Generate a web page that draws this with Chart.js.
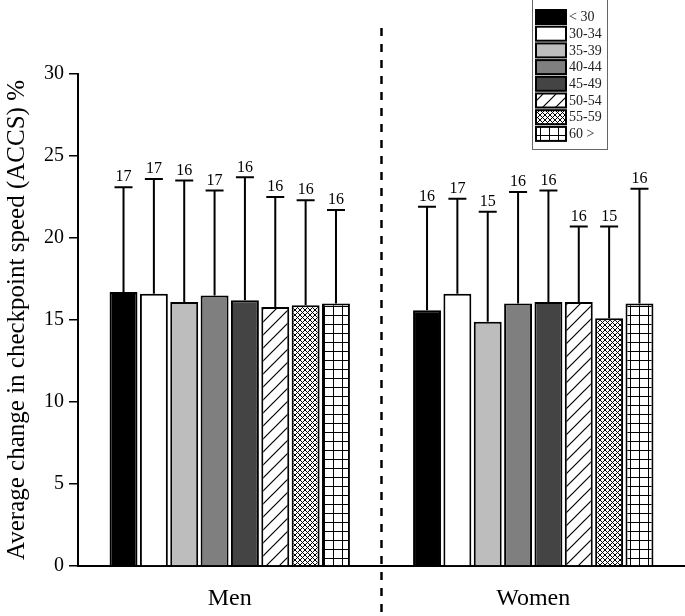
<!DOCTYPE html>
<html>
<head>
<meta charset="utf-8">
<script src="https://cdn.jsdelivr.net/npm/chart.js@4.4.1/dist/chart.umd.min.js"></script>
<style>
  html, body { margin: 0; padding: 0; background: #ffffff; }
  #wrap { width: 685px; height: 616px; position: relative; }
</style>
</head>
<body>
<div id="wrap"><canvas id="accsChart" width="685" height="616"></canvas></div>
<script>
// categories and age groups
const groups = ['Men', 'Women'];
const ageGroups = ['< 30', '30-34', '35-39', '40-44', '45-49', '50-54', '55-59', '60 >'];

// mean ACCS (%) per age group: [Men, Women]
const meanLt30 = [16.7, 15.6];
const mean3034 = [16.6, 16.6];
const mean3539 = [16.1, 14.9];
const mean4044 = [16.5, 16.0];
const mean4549 = [16.2, 16.1];
const mean5054 = [15.8, 16.1];
const mean5559 = [15.9, 15.1];
const mean60up = [16.0, 16.0];

// standard deviation (upper error bar) per age group: [Men, Women]
const sdLt30 = [6.4, 6.3];
const sd3034 = [7.0, 5.8];
const sd3539 = [7.4, 6.7];
const sd4044 = [6.4, 6.8];
const sd4549 = [7.5, 6.8];
const sd5054 = [6.7, 4.6];
const sd5559 = [6.4, 5.6];
const sd60up = [5.7, 7.0];

// labels above the error bars
const nLt30 = [17, 16];
const n3034 = [17, 17];
const n3539 = [16, 15];
const n4044 = [17, 16];
const n4549 = [16, 16];
const n5054 = [16, 16];
const n5559 = [16, 15];
const n60up = [16, 16];

const yTicks = [0, 5, 10, 15, 20, 25, 30];

const means = [meanLt30, mean3034, mean3539, mean4044, mean4549, mean5054, mean5559, mean60up];
const sds = [sdLt30, sd3034, sd3539, sd4044, sd4549, sd5054, sd5559, sd60up];
const ns = [nLt30, n3034, n3539, n4044, n4549, n5054, n5559, n60up];

const serif = "'Liberation Serif', 'DejaVu Serif', serif";

// patterns for the hatched bars
function makePattern(kind) {
    const c = document.createElement('canvas');
    const ctx = c.getContext('2d');
    let s;
    if (kind === 'diag') {
        s = 13;
        c.width = s; c.height = s;
        ctx.fillStyle = '#fff';
        ctx.fillRect(0, 0, s, s);
        ctx.strokeStyle = '#000';
        ctx.lineWidth = 1.2;
        ctx.beginPath();
        ctx.moveTo(-1, s + 1); ctx.lineTo(s + 1, -1);
        ctx.moveTo(-1, 1); ctx.lineTo(1, -1);
        ctx.moveTo(s - 1, s + 1); ctx.lineTo(s + 1, s - 1);
        ctx.stroke();
    } else if (kind === 'cross') {
        s = 5;
        c.width = s; c.height = s;
        ctx.fillStyle = '#fff';
        ctx.fillRect(0, 0, s, s);
        ctx.strokeStyle = '#000';
        ctx.lineWidth = 1;
        ctx.beginPath();
        ctx.moveTo(0, 0); ctx.lineTo(s, s);
        ctx.moveTo(s, 0); ctx.lineTo(0, s);
        ctx.stroke();
    } else {
        s = 9;
        c.width = s; c.height = s;
        ctx.fillStyle = '#fff';
        ctx.fillRect(0, 0, s, s);
        ctx.strokeStyle = '#000';
        ctx.lineWidth = 1;
        ctx.beginPath();
        ctx.moveTo(0.5, 0); ctx.lineTo(0.5, s);
        ctx.moveTo(0, 0.5); ctx.lineTo(s, 0.5);
        ctx.stroke();
    }
    return ctx.createPattern(c, 'repeat');
}

const fills = ['#000000', '#ffffff', '#bdbdbd', '#7f7f7f', '#444444',
    makePattern('diag'), makePattern('cross'), makePattern('grid')];

const datasets = ageGroups.map((label, i) => ({
    label: label,
    data: means[i],
    sd: sds[i],
    n: ns[i],
    backgroundColor: fills[i],
    borderColor: '#000',
    borderWidth: 2,
    borderSkipped: 'bottom',
    categoryPercentage: 0.8,
    barPercentage: 0.92
}));

// upper error bars with n on top
const errorBars = {
    id: 'errorBars',
    afterDatasetsDraw(chart) {
        const ctx = chart.ctx;
        const y = chart.scales.y;
        ctx.save();
        ctx.strokeStyle = '#000';
        ctx.fillStyle = '#000';
        ctx.lineWidth = 2;
        ctx.font = '16px ' + serif;
        ctx.textAlign = 'center';
        ctx.textBaseline = 'bottom';
        chart.data.datasets.forEach((ds, i) => {
            chart.getDatasetMeta(i).data.forEach((bar, j) => {
                const top = y.getPixelForValue(ds.data[j] + ds.sd[j]);
                ctx.beginPath();
                ctx.moveTo(bar.x, bar.y);
                ctx.lineTo(bar.x, top);
                ctx.moveTo(bar.x - 9, top);
                ctx.lineTo(bar.x + 9, top);
                ctx.stroke();
                ctx.fillText(String(ds.n[j]), bar.x, top - 2);
            });
        });
        ctx.restore();
    }
};

// dashed separator between Men and Women
const separator = {
    id: 'separator',
    afterDraw(chart) {
        const x = chart.scales.x;
        const px = (x.getPixelForTick(0) + x.getPixelForTick(1)) / 2;
        const ctx = chart.ctx;
        ctx.save();
        ctx.strokeStyle = '#000';
        ctx.lineWidth = 2.5;
        ctx.setLineDash([8, 8]);
        ctx.beginPath();
        ctx.moveTo(px, 28);
        ctx.lineTo(px, chart.height);
        ctx.stroke();
        ctx.restore();
    }
};

// boxed legend in the top right
const boxLegend = {
    id: 'boxLegend',
    afterDraw(chart) {
        const ctx = chart.ctx;
        const bx = 532, by = -1, bw = 75, bh = 150;
        ctx.save();
        ctx.fillStyle = '#fff';
        ctx.fillRect(bx, by, bw, bh);
        ctx.strokeStyle = '#666';
        ctx.lineWidth = 1;
        ctx.strokeRect(bx + 0.5, by + 0.5, bw, bh);
        ctx.font = '14px ' + serif;
        ctx.textBaseline = 'middle';
        ctx.textAlign = 'left';
        chart.data.datasets.forEach((ds, i) => {
            const ry = 10 + i * 16.7;
            ctx.fillStyle = ds.backgroundColor;
            ctx.fillRect(536, ry, 30, 14);
            ctx.strokeStyle = '#000';
            ctx.lineWidth = 2;
            ctx.strokeRect(536, ry, 30, 14);
            ctx.fillStyle = '#222';
            ctx.fillText(ds.label, 569, ry + 7.5);
        });
        ctx.restore();
    }
};

new Chart(document.getElementById('accsChart'), {
    type: 'bar',
    data: { labels: groups, datasets: datasets },
    options: {
        responsive: false,
        animation: false,
        layout: { padding: { top: 74, right: 0, left: 0, bottom: 0 } },
        plugins: {
            legend: { display: false },
            tooltip: { enabled: false }
        },
        scales: {
            x: {
                grid: { display: false },
                border: { display: true, color: '#000', width: 2 },
                ticks: { color: '#000', padding: 10, font: { family: serif, size: 24 } },
                afterFit(scale) { scale.height = 50; }
            },
            y: {
                min: 0,
                max: 30,
                afterBuildTicks(scale) { scale.ticks = yTicks.map(v => ({ value: v })); },
                grid: { drawOnChartArea: false, drawTicks: true, tickLength: 9, color: '#000', lineWidth: 1.5 },
                border: { display: true, color: '#000', width: 2 },
                ticks: { color: '#000', padding: 5, font: { family: serif, size: 20 } },
                title: {
                    display: true,
                    text: 'Average change in checkpoint speed (ACCS) %',
                    color: '#000',
                    padding: { top: 2, bottom: 2 },
                    font: { family: serif, size: 25 }
                },
                afterFit(scale) { scale.width = 78; }
            }
        }
    },
    plugins: [errorBars, separator, boxLegend]
});
</script>
</body>
</html>
